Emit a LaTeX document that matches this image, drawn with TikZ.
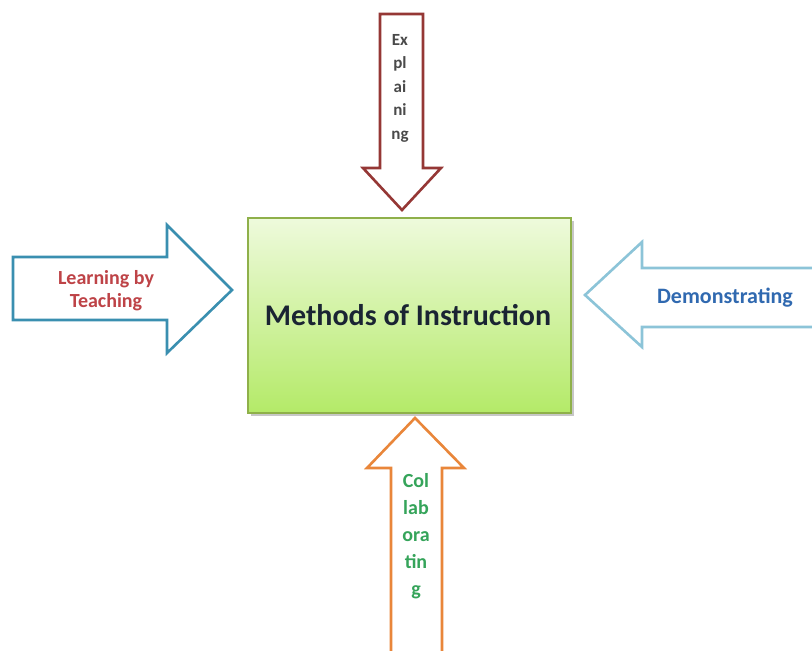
\documentclass[tikz,border=0pt]{standalone}
\usepackage{fontspec}
\setmainfont{Carlito}
\definecolor{explred}{HTML}{953735}
\definecolor{teachline}{HTML}{3A8FB0}
\definecolor{teachtext}{HTML}{BE4347}
\definecolor{demoline}{HTML}{8CC4D8}
\definecolor{demotext}{HTML}{3069B0}
\definecolor{collline}{HTML}{E9863A}
\definecolor{colltext}{HTML}{35A45A}
\definecolor{boxtop}{HTML}{EEFADC}
\definecolor{boxbot}{HTML}{B4EA68}
\definecolor{boxline}{HTML}{8FB04A}
\definecolor{coretext}{HTML}{1A2433}
\definecolor{explaintext}{HTML}{4A4A4A}
\begin{document}
\begin{tikzpicture}[x=1pt,y=-1pt,
  arrowline/.style={line width=2.6pt, line join=miter, fill=white},
  label/.style={inner sep=0pt, align=center},
  sidetext/.style={label, font=\bfseries\fontsize{21}{23}\selectfont}]
\useasboundingbox (0,0) rectangle (812,651);
\fill[white] (0,0) rectangle (812,651);

% central box with a soft shadow
\fill[black!22] (251,221) rectangle (574,416);
\shade[top color=boxtop, bottom color=boxbot] (248,218) rectangle (571,413);
\draw[boxline, line width=1.6pt] (248,218) rectangle (571,413);
\node[label, font=\bfseries\fontsize{30}{34}\selectfont, text=coretext] (core) at (408,315) {Methods of Instruction};

% arrow from above
\draw[arrowline, draw=explred] (380,14) -- (423,14) -- (423,168) -- (441,168)
  -- (402,210) -- (363,168) -- (380,168) -- cycle;
\node[label, text=explaintext, font=\bfseries\fontsize{17}{23.5}\selectfont] (explain) at (400,88) {Ex\\pl\\ai\\ni\\ng};

% arrow from the left
\draw[arrowline, draw=teachline] (13,257) -- (167,257) -- (167,225) -- (232,290)
  -- (167,353) -- (167,320) -- (13,320) -- cycle;
\node[sidetext, font=\bfseries\fontsize{20}{23}\selectfont, text=teachtext] (teach) at (106,291) {Learning by\\Teaching};

% arrow from the right
\draw[arrowline, draw=demoline] (820,268) -- (642,268) -- (642,242) -- (585,295)
  -- (642,347) -- (642,327) -- (820,327);
\node[sidetext, font=\bfseries\fontsize{22}{25}\selectfont, text=demotext] (demo) at (725,298) {Demonstrating};

% arrow from below
\draw[arrowline, draw=collline] (391,660) -- (391,468) -- (367,468) -- (415,418)
  -- (464,468) -- (442,468) -- (442,660);
\node[label, text=colltext, font=\bfseries\fontsize{20}{27}\selectfont] (collab) at (416,536) {Col\\lab\\ora\\tin\\g};
\end{tikzpicture}
\end{document}
